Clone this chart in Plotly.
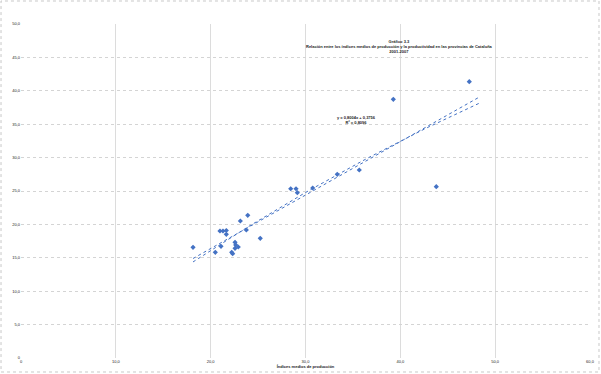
import numpy as np
import plotly.graph_objects as go

# ---- data ----
x_vals = [18.14, 20.49, 21.09, 20.98, 21.30, 21.65, 21.65, 22.22, 22.32, 22.57,
          22.57, 22.64, 22.91, 23.13, 23.91, 23.76, 25.23, 28.44, 29.00, 29.14,
          30.76, 33.35, 35.67, 39.26, 47.27, 43.79]
y_vals = [16.57, 15.82, 16.72, 19.01, 19.01, 19.09, 18.52, 15.82, 15.61, 16.42,
          17.32, 16.92, 16.62, 20.51, 21.36, 19.16, 17.92, 25.34, 25.34, 24.75,
          25.45, 27.50, 28.14, 38.73, 41.36, 25.64]

x_tick_vals = [0, 10, 20, 30, 40, 50, 60]
x_tick_text = ["0", "10,0", "20,0", "30,0", "40,0", "50,0", "60,0"]
y_tick_vals = [0, 5, 10, 15, 20, 25, 30, 35, 40, 45, 50]
y_tick_text = ["0", "5,0", "10,0", "15,0", "20,0", "25,0", "30,0", "35,0", "40,0", "45,0", "50,0"]

title_lines = ["Gráfico 3.3",
               "Relación entre los índices medios de producción y la productividad en las provincias de Cataluña",
               "2001-2007"]
x_title = "Índices medios de producción"

BLUE = "#4472C4"

# ---- trend lines computed from the data ----
xa = np.array(x_vals)
ya = np.array(y_vals)
m1, b1 = np.polyfit(xa, ya, 1)
r2 = np.corrcoef(xa, ya)[0, 1] ** 2
quad = np.polyfit(xa, ya, 2)
xl = np.linspace(xa.min(), xa.max() * 1.025, 40)

fig = go.Figure()
fig.add_trace(go.Scatter(x=xl, y=m1 * xl + b1, mode="lines",
                         line=dict(color=BLUE, width=1, dash="dot"),
                         hoverinfo="skip", showlegend=False))
fig.add_trace(go.Scatter(x=xl, y=np.polyval(quad, xl), mode="lines",
                         line=dict(color=BLUE, width=1, dash="dot"),
                         hoverinfo="skip", showlegend=False))
fig.add_trace(go.Scatter(x=x_vals, y=y_vals, mode="markers",
                         marker=dict(symbol="diamond", size=4, color=BLUE),
                         showlegend=False))

eq = f"y = {m1:.4f}x {'-' if b1 < 0 else '+'} {abs(b1):.4f}".replace(".", ",")
r2t = f"R² = {r2:.4f}".replace(".", ",")

fig.add_annotation(x=0.833, y=0.96, xref="paper", yref="paper",
                   text="<b>" + "<br>".join(title_lines) + "</b>",
                   showarrow=False, align="center",
                   font=dict(family="Arial, Liberation Sans", size=4, color="#222"))
fig.add_annotation(x=0.59, y=0.735, xref="paper", yref="paper",
                   text="<b>" + eq + "<br>" + r2t + "</b>",
                   showarrow=False, align="center",
                   font=dict(family="Arial, Liberation Sans", size=4, color="#222"))

# outer dotted border
fig.add_shape(type="rect", xref="paper", yref="paper",
              x0=-0.0351, x1=1.0158, y0=-0.0419, y1=1.0689,
              line=dict(color="#c8c8c8", width=1, dash="dot"))

fig.update_layout(
    width=601, height=374,
    margin=dict(l=21, r=11, t=24, b=16, autoexpand=False),
    paper_bgcolor="white", plot_bgcolor="white",
    font=dict(family="Arial, Liberation Sans", size=4, color="#222"),
    xaxis=dict(range=[0, 60], tickvals=x_tick_vals, ticktext=x_tick_text,
               showgrid=True, gridcolor="#dcdcdc", gridwidth=1,
               zeroline=False, showline=False, ticks="", automargin=False,
               tickfont=dict(size=4, color="#222"),
               title=dict(text="<b>" + x_title + "</b>", font=dict(size=4, color="#222"), standoff=1)),
    yaxis=dict(range=[0, 50], tickvals=y_tick_vals, ticktext=y_tick_text,
               showgrid=True, gridcolor="#d4d4d4", gridwidth=1, griddash="dot",
               zeroline=False, showline=False, ticks="", automargin=False,
               tickfont=dict(size=4, color="#222")),
)

fig.write_html("out.html", config={"displayModeBar": False},
               post_script="document.body.style.margin='0';document.body.style.overflow='hidden';")
